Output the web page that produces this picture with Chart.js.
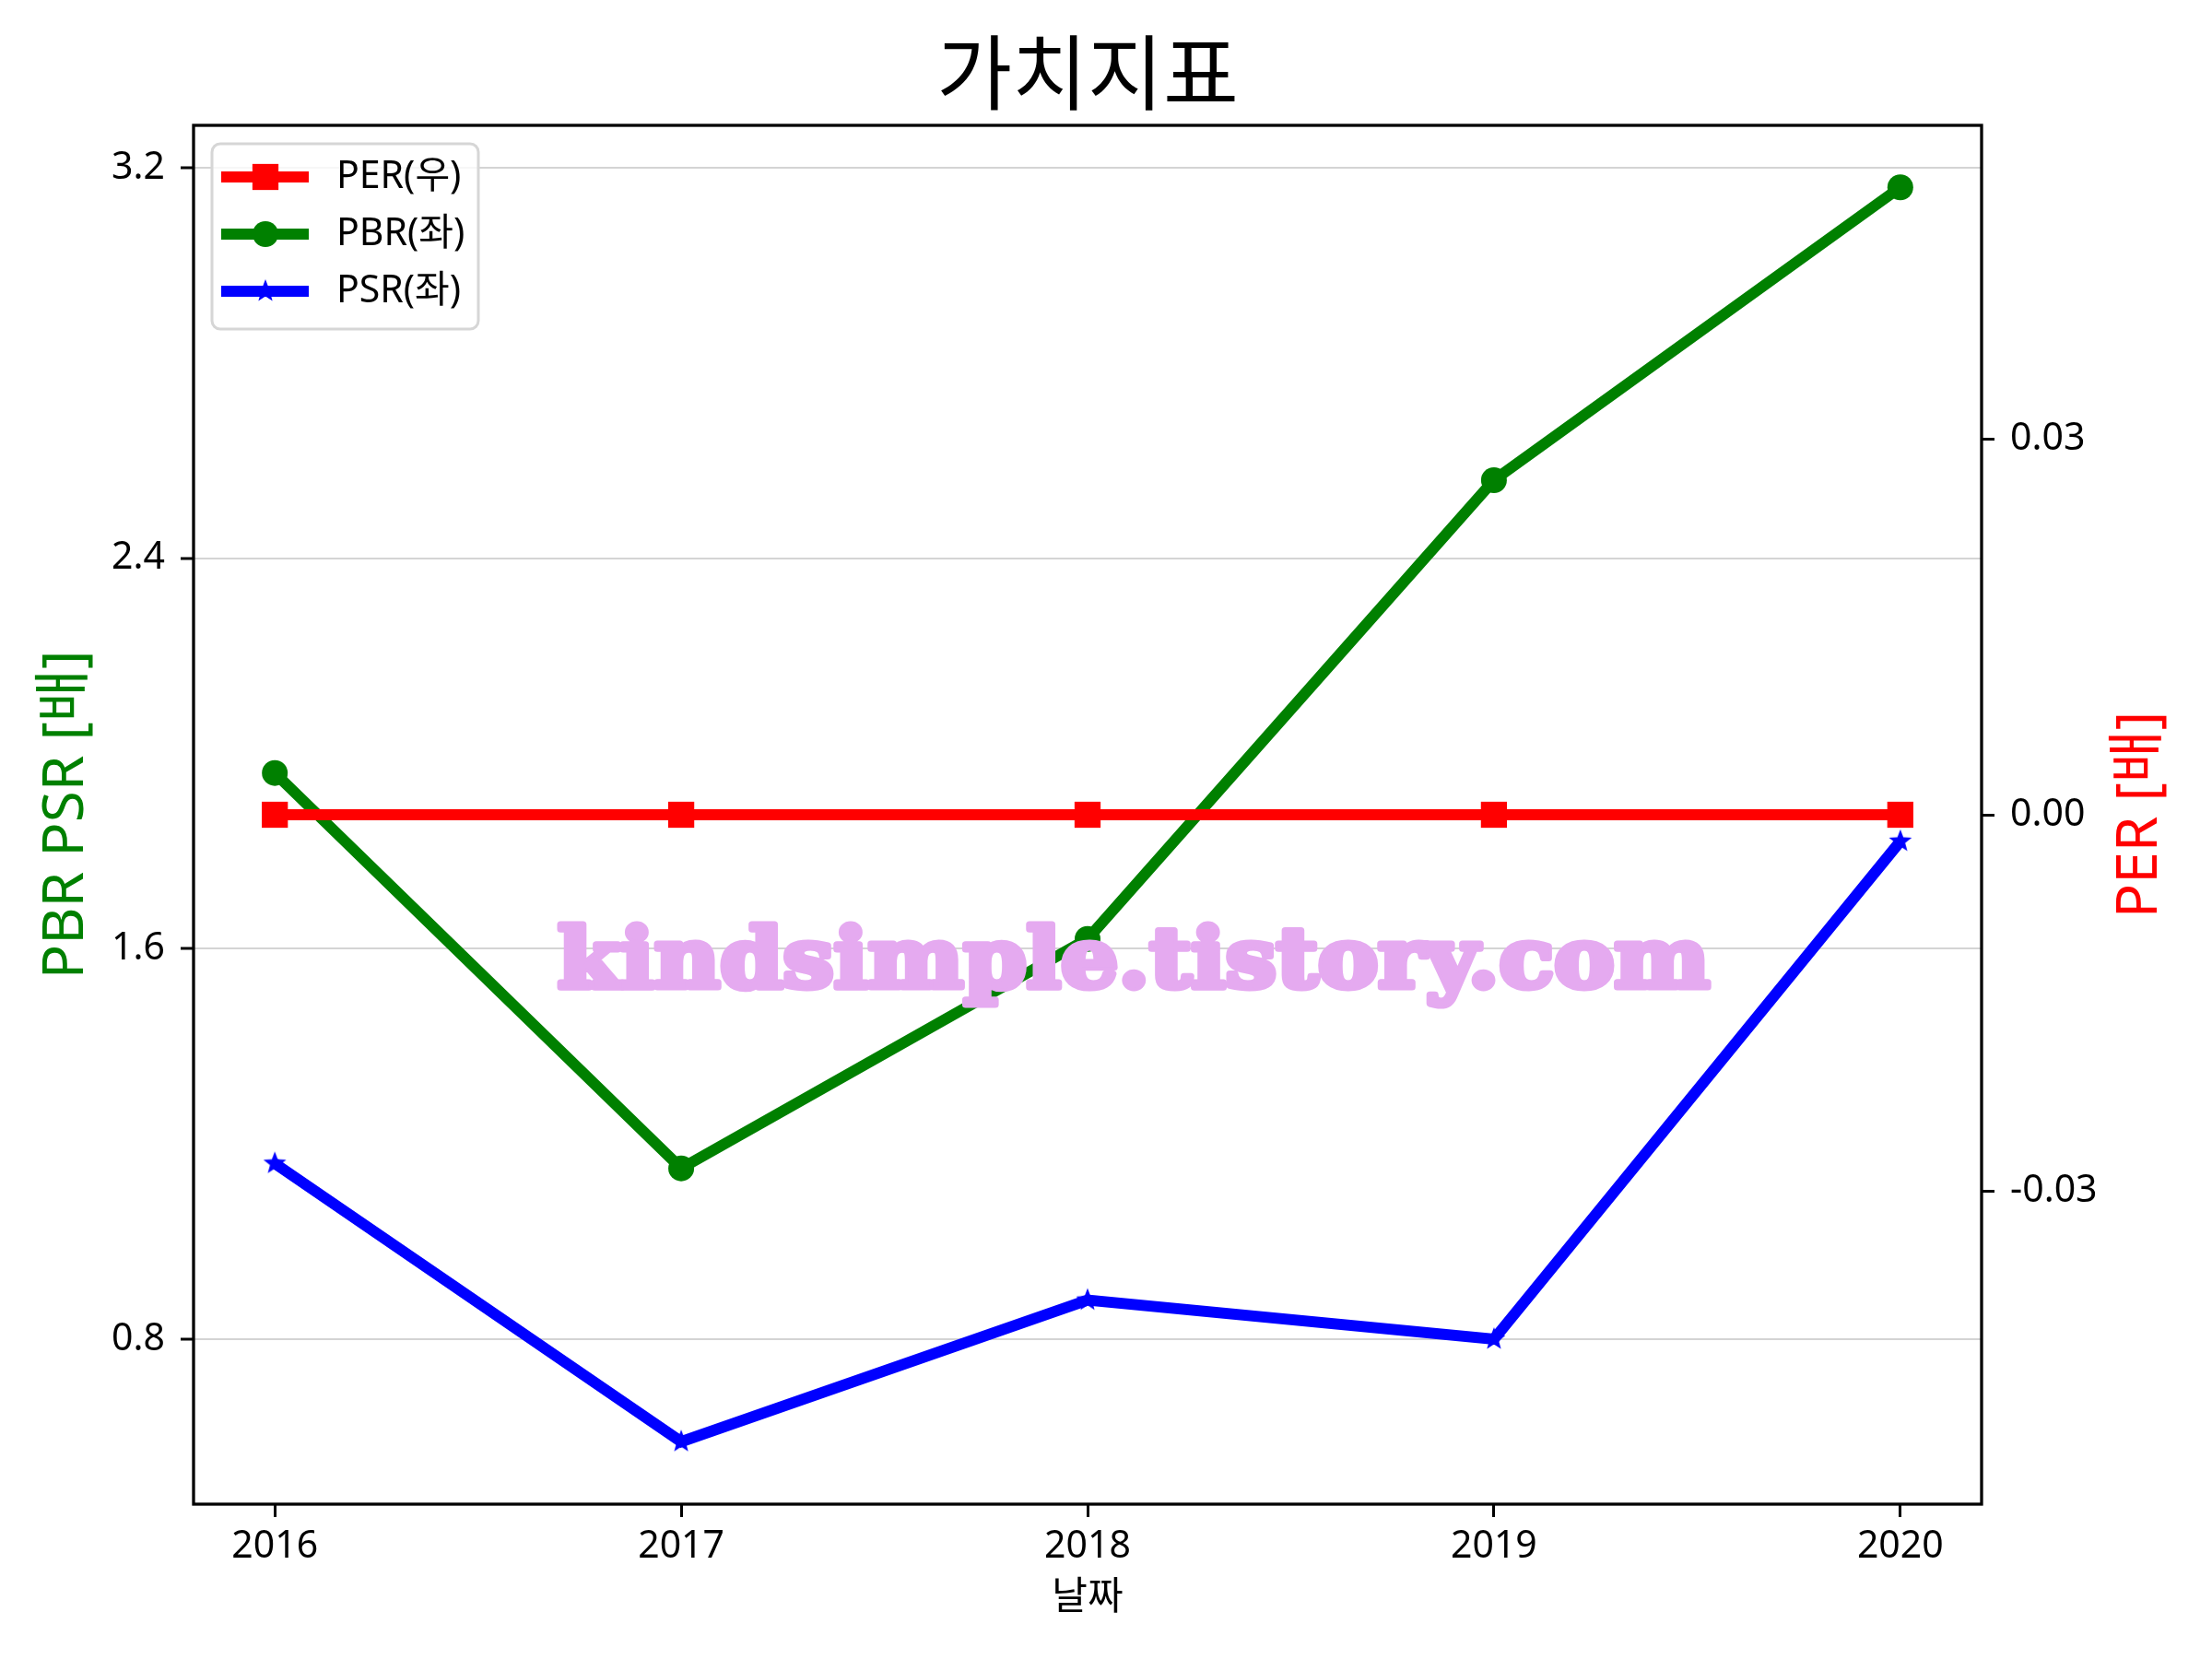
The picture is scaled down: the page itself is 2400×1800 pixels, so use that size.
<!DOCTYPE html>
<html>
<head>
<meta charset="utf-8">
<script src="https://cdn.jsdelivr.net/npm/chart.js@4/dist/chart.umd.min.js"></script>
<style>
    body { margin: 0; background: #ffffff; }
    #chart { display: block; }
</style>
</head>
<body>
<canvas id="chart" width="2400" height="1800" style="width:2400px;height:1800px"></canvas>
<script>
const years = [2016, 2017, 2018, 2019, 2020];
const perValues = [0, 0, 0, 0, 0];
const pbrValues = [1.96, 1.15, 1.62, 2.56, 3.16];
const psrValues = [1.16, 0.59, 0.88, 0.80, 1.82];
const leftTicks = [0.8, 1.6, 2.4, 3.2];
const rightTicks = [-0.03, 0, 0.03];
const seriesLabels = ['PER(우)', 'PBR(좌)', 'PSR(좌)'];
const chartTitle = '가치지표';
const xTitle = '날짜';
const leftTitle = 'PBR PSR [배]';
const rightTitle = 'PER [배]';
const watermark = 'kindsimple.tistory.com';

const FONT = '"Noto Sans", "Noto Sans CJK KR", sans-serif';

// filled star like matplotlib's '*' marker
function makeStar(r, color) {
    const s = Math.ceil(r * 2 + 4);
    const c = document.createElement('canvas');
    c.width = s; c.height = s;
    const g = c.getContext('2d');
    g.fillStyle = color;
    g.beginPath();
    for (let i = 0; i < 10; i++) {
        const a = -Math.PI / 2 + i * Math.PI / 5;
        const rr = i % 2 ? r * 0.42 : r;
        g.lineTo(s / 2 + rr * Math.cos(a), s / 2 + rr * Math.sin(a));
    }
    g.closePath();
    g.fill();
    return c;
}
const starImg = makeStar(13, '#0000ff');

const toPoints = (vals) => vals.map((v, i) => ({ x: years[i], y: v }));

const decorPlugin = {
    id: 'decor',
    afterDatasetsDraw(chart) {
        const ctx = chart.ctx;
        const area = chart.chartArea;
        ctx.save();
        // watermark, heavy weight faked with a stroke
        ctx.font = 'bold 90px "DejaVu Serif", serif';
        const w = ctx.measureText(watermark).width;
        ctx.translate(1230, 1071);
        ctx.scale(1250 / w, 1);
        ctx.fillStyle = '#e5aaf0';
        ctx.strokeStyle = '#e5aaf0';
        ctx.lineWidth = 7;
        ctx.lineJoin = 'round';
        ctx.textAlign = 'center';
        ctx.textBaseline = 'alphabetic';
        ctx.strokeText(watermark, 0, 0);
        ctx.fillText(watermark, 0, 0);
        ctx.restore();

        // frame
        ctx.save();
        ctx.strokeStyle = '#000000';
        ctx.lineWidth = 3.3;
        ctx.strokeRect(area.left, area.top, area.right - area.left, area.bottom - area.top);
        ctx.restore();
    },
    afterDraw(chart) {
        const ctx = chart.ctx;
        const area = chart.chartArea;
        ctx.save();
        // title
        ctx.font = '89px ' + FONT;
        ctx.fillStyle = '#000000';
        ctx.textAlign = 'center';
        ctx.textBaseline = 'middle';
        ctx.fillText(chartTitle, (area.left + area.right) / 2, 87);

        // right axis title (reads bottom to top)
        ctx.save();
        ctx.translate(2322, (area.top + area.bottom) / 2);
        ctx.rotate(-Math.PI / 2);
        ctx.font = '62px ' + FONT;
        ctx.fillStyle = '#ff0000';
        ctx.fillText(rightTitle, 0, 0);
        ctx.restore();

        // legend
        const bx = 230, by = 156, bw = 289, bh = 201, rad = 9;
        ctx.beginPath();
        ctx.roundRect(bx, by, bw, bh, rad);
        ctx.fillStyle = 'rgba(255,255,255,0.8)';
        ctx.fill();
        ctx.lineWidth = 3;
        ctx.strokeStyle = '#d6d6d6';
        ctx.stroke();

        chart.data.datasets.forEach((ds, i) => {
            const cy = 192 + i * 62;
            ctx.beginPath();
            ctx.moveTo(240, cy);
            ctx.lineTo(335, cy);
            ctx.strokeStyle = ds.borderColor;
            ctx.lineWidth = ds.borderWidth;
            ctx.stroke();
            ctx.fillStyle = ds.pointBackgroundColor;
            if (ds.pointStyle === 'rect') {
                const h = ds.pointRadius * Math.SQRT1_2;
                ctx.fillRect(288 - h, cy - h, 2 * h, 2 * h);
            } else if (ds.pointStyle === 'circle') {
                ctx.beginPath();
                ctx.arc(288, cy, ds.pointRadius, 0, Math.PI * 2);
                ctx.fill();
            } else {
                const img = ds.pointStyle;
                ctx.drawImage(img, 288 - img.width / 2, cy - img.height / 2);
            }
            ctx.font = '41px ' + FONT;
            ctx.fillStyle = '#000000';
            ctx.textAlign = 'left';
            ctx.textBaseline = 'middle';
            ctx.fillText(ds.label, 365, cy);
        });
        ctx.restore();
    }
};

new Chart(document.getElementById('chart'), {
    type: 'line',
    data: {
        datasets: [
            {
                label: seriesLabels[0],
                data: toPoints(perValues),
                yAxisID: 'yRight',
                borderColor: '#ff0000',
                backgroundColor: '#ff0000',
                pointBackgroundColor: '#ff0000',
                borderWidth: 12,
                pointStyle: 'rect',
                pointRadius: 20,
                pointBorderWidth: 0,
                tension: 0
            },
            {
                label: seriesLabels[1],
                data: toPoints(pbrValues),
                yAxisID: 'yLeft',
                borderColor: '#008000',
                backgroundColor: '#008000',
                pointBackgroundColor: '#008000',
                borderWidth: 12,
                pointStyle: 'circle',
                pointRadius: 14,
                pointBorderWidth: 0,
                tension: 0
            },
            {
                label: seriesLabels[2],
                data: toPoints(psrValues),
                yAxisID: 'yLeft',
                borderColor: '#0000ff',
                backgroundColor: '#0000ff',
                pointBackgroundColor: '#0000ff',
                borderWidth: 12,
                pointStyle: starImg,
                pointRadius: 13,
                pointBorderWidth: 0,
                tension: 0
            }
        ]
    },
    options: {
        responsive: false,
        animation: false,
        layout: { padding: { top: 136, left: 0, right: 0, bottom: 0 } },
        plugins: {
            legend: { display: false },
            tooltip: { enabled: false }
        },
        scales: {
            x: {
                type: 'linear',
                position: 'bottom',
                min: 2015.8,
                max: 2020.2,
                afterBuildTicks: (s) => { s.ticks = years.map(v => ({ value: v })); },
                afterFit: (s) => { s.height = 168; },
                ticks: {
                    color: '#000000',
                    font: { family: FONT, size: 41 },
                    padding: 8,
                    maxRotation: 0,
                    callback: (v) => String(v)
                },
                grid: {
                    drawOnChartArea: false,
                    tickLength: 14,
                    tickWidth: 3,
                    tickColor: '#000000'
                },
                border: { display: false },
                title: {
                    display: true,
                    text: xTitle,
                    color: '#000000',
                    font: { family: FONT, size: 42 },
                    padding: { top: 0, bottom: 41 }
                }
            },
            yLeft: {
                type: 'linear',
                position: 'left',
                min: 0.462,
                max: 3.287,
                afterBuildTicks: (s) => { s.ticks = leftTicks.map(v => ({ value: v })); },
                afterFit: (s) => { s.width = 210; },
                ticks: {
                    color: '#000000',
                    font: { family: FONT, size: 41 },
                    padding: 17,
                    callback: (v) => v.toFixed(1)
                },
                grid: {
                    color: '#d4d4d4',
                    lineWidth: 2,
                    tickLength: 14,
                    tickWidth: 3,
                    tickColor: '#000000'
                },
                border: { display: false },
                title: {
                    display: true,
                    text: leftTitle,
                    color: '#008000',
                    font: { family: FONT, size: 62 },
                    padding: { top: 35, bottom: 0 }
                }
            },
            yRight: {
                type: 'linear',
                position: 'right',
                min: -0.055,
                max: 0.055,
                afterBuildTicks: (s) => { s.ticks = rightTicks.map(v => ({ value: v })); },
                afterFit: (s) => { s.width = 250; },
                ticks: {
                    color: '#000000',
                    font: { family: FONT, size: 41 },
                    padding: 17,
                    callback: (v) => v.toFixed(2)
                },
                grid: {
                    drawOnChartArea: false,
                    tickLength: 14,
                    tickWidth: 3,
                    tickColor: '#000000'
                },
                border: { display: false }
            }
        }
    },
    plugins: [decorPlugin]
});
</script>
</body>
</html>
